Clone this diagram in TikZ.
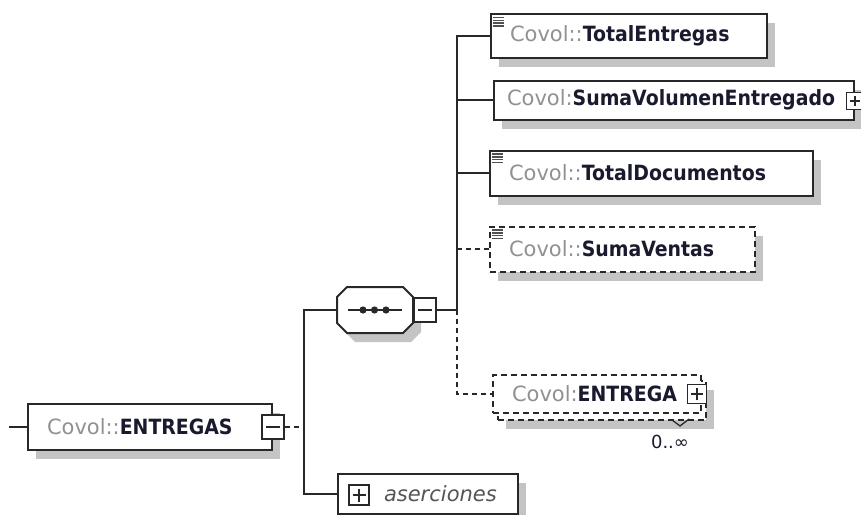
\documentclass[tikz,border=0pt]{standalone}
\usepackage{fontspec}
\setmainfont{DejaVu Sans}[BoldFeatures={FakeStretch=0.9}]
\usetikzlibrary{calc,shadows}

\newcommand\elname[2]{\textcolor{nsgray}{#1}\textbf{\textcolor{namedark}{#2}}}
\newcommand\docicon[1]{%
  \foreach \k in {0,...,3}{
    \draw[line width=1.5pt,draw=icongray]
      ([xshift=3pt,yshift={-(4.5+2.8*\k)*1pt}]#1.north west) -- ++(11,0);
  }}

\begin{document}
\begin{tikzpicture}[
  x=1pt, y=-1pt,
  font=\fontsize{21pt}{24pt}\selectfont,
  conn/.style={line width=1.6pt, draw=boxline},
  optconn/.style={conn, dash pattern=on 5pt off 4pt},
  boxbase/.style={draw=boxline, line width=2pt, fill=white, anchor=west,
    align=left, inner xsep=19pt, inner ysep=0pt},
  elem/.style={boxbase,
    drop shadow={shadow xshift=8pt, shadow yshift=-9pt, fill=shadowgray, opacity=1}},
  optelem/.style={elem, dash pattern=on 6pt off 4pt},
  signbox/.style={draw=boxline, line width=1.6pt, fill=white,
    minimum width=22pt, minimum height=24pt, inner sep=0pt},
  minusbox/.style={signbox, path picture={
    \draw[line width=1.4pt,boxline]
      ([xshift=4pt]path picture bounding box.west) -- ([xshift=-4pt]path picture bounding box.east);}},
  plusbox/.style={signbox, minimum width=19pt, minimum height=19pt, path picture={
    \draw[line width=1.4pt,boxline]
      ([xshift=3.5pt]path picture bounding box.west) -- ([xshift=-3.5pt]path picture bounding box.east)
      ([yshift=-3.5pt]path picture bounding box.north) -- ([yshift=3.5pt]path picture bounding box.south);}},
  count/.style={font=\fontsize{18pt}{20pt}\selectfont, text=namedark}
]

\definecolor{boxline}{RGB}{40,40,40}
\definecolor{nsgray}{RGB}{145,145,145}
\definecolor{namedark}{RGB}{26,26,46}
\definecolor{shadowgray}{RGB}{196,196,196}
\definecolor{icongray}{RGB}{80,80,80}
\definecolor{asesgray}{RGB}{85,85,85}

\useasboundingbox (0,0) rectangle (861,514);
\fill[white] (0,0) rectangle (861,514);

% root element
\node[elem, text width=206pt, minimum height=46pt] (root) at (27,427)
  {\elname{Covol::}{ENTREGAS}};
\node[minusbox] (rootminus) at (root.east) {};
\coordinate (rootin) at (9,427);
\coordinate (j1) at (304,427);
\draw[conn] (rootin) -- (root.west);
\draw[optconn] (rootminus.east) -- (j1);

% sequence compositor
\node[minimum width=76pt, minimum height=46pt, inner sep=0pt] (seq) at (375,310) {};
\begin{scope}[shift={(8,9)}]
  \fill[shadowgray] (347,287) -- (403,287) -- (413,297) -- (413,323)
    -- (403,333) -- (347,333) -- (337,323) -- (337,297) -- cycle;
\end{scope}
\draw[conn, line width=2pt, fill=white] (347,287) -- (403,287) -- (413,297) -- (413,323)
  -- (403,333) -- (347,333) -- (337,323) -- (337,297) -- cycle;
\draw[conn] (348,310) -- (402,310);
\foreach \dx in {363,374.5,386}
  \fill[boxline] (\dx,310) circle (3.6pt);
\node[minusbox, anchor=west] (seqminus) at (seq.east) {};

% aserciones
\node[elem, text width=142pt, minimum height=40pt] (ases) at (337,494)
  {\hspace*{27pt}\textcolor{asesgray}{\itshape aserciones}};
\node[plusbox, minimum width=20pt, minimum height=20pt] (asesplus) at (359,495) {};

\draw[conn] (seq.west) -| (j1) |- (ases.west);

% children of the sequence
\node[elem, text width=238pt, minimum height=44pt] (totent) at (490,36)
  {\elname{Covol::}{TotalEntregas}};
\docicon{totent}

\node[elem, inner xsep=13pt, text width=334pt, minimum height=39pt] (sumvol) at (493,100)
  {\elname{Covol:}{SumaVolumenEntregado}};
\node[plusbox, minimum width=17pt, minimum height=17pt] (sumvolplus) at (855,101) {};

\node[elem, text width=285pt, minimum height=45pt] (totdoc) at (489,173)
  {\elname{Covol::}{TotalDocumentos}};
\docicon{totdoc}

\node[optelem, text width=227pt, minimum height=45pt] (sumven) at (489,249)
  {\elname{Covol::}{SumaVentas}};
\docicon{sumven}

% repeated element, drawn as two stacked boxes
\node[optelem, text width=170pt, minimum height=39pt] (entregaback) at (497,400) {};
\node[boxbase, dash pattern=on 6pt off 4pt, text width=170pt, minimum height=38pt]
  (entrega) at (492,394) {\elname{Covol:}{ENTREGA}};
\node[plusbox] (entregaplus) at (697,394) {};
\draw[boxline, line width=1.3pt] (672,420) -- (680,426) -- (689,419);
\node[count] (occurs) at (670,442) {0..∞};

\coordinate (j2) at (457,310);
\draw[conn] (seqminus.east) -- (j2);
\draw[conn] (totent.west) -| (j2);
\draw[conn] (sumvol.west) -- (sumvol.west -| j2);
\draw[conn] (totdoc.west) -- (totdoc.west -| j2);
\draw[optconn] (sumven.west) -- (sumven.west -| j2);
\draw[optconn] (j2) |- (entrega.west);

\end{tikzpicture}
\end{document}
